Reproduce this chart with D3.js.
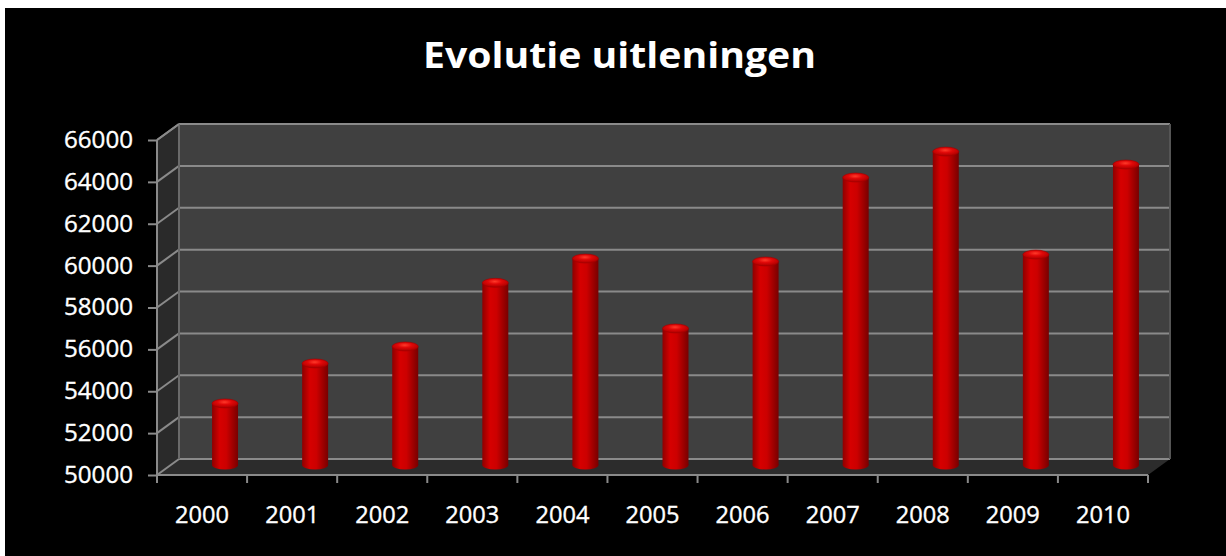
<!DOCTYPE html>
<html>
<head>
<meta charset="utf-8">
<script src="https://cdn.jsdelivr.net/npm/d3@7"></script>
<style>
  html, body { margin: 0; padding: 0; background: #fff; }
  svg { display: block; }
</style>
</head>
<body>
<div id="chart"></div>
<script>
// data
var years = ["2000", "2001", "2002", "2003", "2004", "2005", "2006", "2007", "2008", "2009", "2010"];
var loans = [52940, 54850, 55660, 58700, 59860, 56520, 59720, 63730, 64970, 60050, 64350];
var yTicks = [50000, 52000, 54000, 56000, 58000, 60000, 62000, 64000, 66000];

var svgWidth = 1226;
var svgHeight = 556;

// 3d offset of the back wall
var depth = { dx: 22, dy: -16 };
// where the cylinders stand inside the depth
var barShift = { dx: 23, dy: -10 };
var barWidth = 26;
var capRy = 4.5;

var svg = d3.select("#chart")
  .append("svg")
  .attr("width", svgWidth)
  .attr("height", svgHeight);

svg.append("rect")
  .attr("x", 5).attr("y", 8)
  .attr("width", svgWidth - 5).attr("height", svgHeight - 8)
  .attr("fill", "#000");

var xScale = d3.scaleBand()
  .domain(years)
  .range([157, 1148])
  .padding(0);

var yScale = d3.scaleLinear()
  .domain([50000, 66000])
  .range([475, 140]);

var x0 = xScale.range()[0], x1 = xScale.range()[1];
var yBot = yScale(50000), yTop = yScale(66000);

var defs = svg.append("defs");
var body = defs.append("linearGradient").attr("id", "cylBody");
body.append("stop").attr("offset", "0%").attr("stop-color", "#8e0000");
body.append("stop").attr("offset", "30%").attr("stop-color", "#d60000");
body.append("stop").attr("offset", "55%").attr("stop-color", "#cc0000");
body.append("stop").attr("offset", "100%").attr("stop-color", "#780000");

var cap = defs.append("radialGradient").attr("id", "cylCap")
  .attr("cx", "48%").attr("cy", "35%").attr("r", "60%");
cap.append("stop").attr("offset", "0%").attr("stop-color", "#ff3a2a");
cap.append("stop").attr("offset", "45%").attr("stop-color", "#e00808");
cap.append("stop").attr("offset", "100%").attr("stop-color", "#b00000");

// walls
var walls = svg.append("g");
walls.append("polygon")
  .attr("points", [[x0 + depth.dx, yTop + depth.dy], [x1 + depth.dx, yTop + depth.dy],
                   [x1 + depth.dx, yBot + depth.dy], [x0 + depth.dx, yBot + depth.dy]].join(" "))
  .attr("fill", "#404040");
walls.append("polygon")
  .attr("points", [[x0, yTop], [x0 + depth.dx, yTop + depth.dy],
                   [x0 + depth.dx, yBot + depth.dy], [x0, yBot]].join(" "))
  .attr("fill", "#2a2a2a");
walls.append("polygon")
  .attr("points", [[x0, yBot], [x0 + depth.dx, yBot + depth.dy],
                   [x1 + depth.dx, yBot + depth.dy], [x1, yBot]].join(" "))
  .attr("fill", "#2c2c2c");

// gridlines on the back wall and the side wall
var grid = svg.append("g").attr("stroke", "#8a8a8a").attr("stroke-width", 2).attr("fill", "none");
grid.selectAll(".back")
  .data(yTicks)
  .enter()
  .append("line")
  .attr("x1", x0 + depth.dx)
  .attr("x2", x1 + depth.dx)
  .attr("y1", d => yScale(d) + depth.dy)
  .attr("y2", d => yScale(d) + depth.dy);
grid.selectAll(".side")
  .data(yTicks)
  .enter()
  .append("line")
  .attr("x1", x0)
  .attr("x2", x0 + depth.dx)
  .attr("y1", d => yScale(d))
  .attr("y2", d => yScale(d) + depth.dy);
grid.append("line")
  .attr("x1", x0 + depth.dx).attr("x2", x0 + depth.dx)
  .attr("y1", yTop + depth.dy).attr("y2", yBot + depth.dy)
  .attr("stroke", "#6a6a6a");
grid.append("line")
  .attr("x1", x1 + depth.dx).attr("x2", x1 + depth.dx)
  .attr("y1", yTop + depth.dy).attr("y2", yBot + depth.dy)
  .attr("stroke", "#555");

// cylinders
var bars = svg.append("g");
var cyl = bars.selectAll(".cyl")
  .data(loans)
  .enter()
  .append("g")
  .attr("transform", (d, i) => `translate(${xScale(years[i]) + xScale.bandwidth() / 2 + barShift.dx}, 0)`);

cyl.append("ellipse")
  .attr("cx", 0)
  .attr("cy", yScale(50000) + barShift.dy)
  .attr("rx", barWidth / 2)
  .attr("ry", capRy)
  .attr("fill", "url(#cylBody)");
cyl.append("rect")
  .attr("x", -barWidth / 2)
  .attr("width", barWidth)
  .attr("y", d => yScale(d) + barShift.dy)
  .attr("height", d => yScale(50000) - yScale(d))
  .attr("fill", "url(#cylBody)");
cyl.append("ellipse")
  .attr("cx", 0)
  .attr("cy", d => yScale(d) + barShift.dy)
  .attr("rx", barWidth / 2)
  .attr("ry", capRy)
  .attr("fill", "url(#cylCap)")
  .attr("stroke", "#a00000")
  .attr("stroke-width", 0.6);

// axes
var leftAxis = d3.axisLeft(yScale)
  .tickValues(yTicks)
  .tickSize(9)
  .tickSizeOuter(0)
  .tickPadding(15)
  .tickFormat(d3.format("d"));

var yAxisG = svg.append("g")
  .attr("transform", `translate(${x0}, 0)`)
  .call(leftAxis);
yAxisG.select(".domain").remove();
yAxisG.selectAll("line").attr("stroke", "#8a8a8a").attr("stroke-width", 2);
yAxisG.selectAll("text")
  .attr("fill", "#fff")
  .attr("stroke", "#fff")
  .attr("stroke-width", 0.35)
  .style("font-family", "'Open Sans', sans-serif")
  .style("font-size", "23px")
  .attr("textLength", 69)
  .attr("lengthAdjust", "spacingAndGlyphs");

var bottomAxis = d3.axisBottom(xScale)
  .tickSize(0)
  .tickPadding(32);

var xAxisG = svg.append("g")
  .attr("transform", `translate(0, ${yBot})`)
  .call(bottomAxis);
xAxisG.select(".domain").remove();
xAxisG.selectAll("text")
  .attr("fill", "#fff")
  .attr("stroke", "#fff")
  .attr("stroke-width", 0.35)
  .style("font-family", "'Open Sans', sans-serif")
  .style("font-size", "23px")
  .attr("textLength", 54)
  .attr("lengthAdjust", "spacingAndGlyphs");

// front axis lines and category ticks
var axisLines = svg.append("g").attr("stroke", "#8a8a8a").attr("stroke-width", 2);
axisLines.append("line")
  .attr("x1", x0).attr("x2", x0)
  .attr("y1", yTop).attr("y2", yBot + 8);
axisLines.append("line")
  .attr("x1", x0).attr("x2", x1)
  .attr("y1", yBot).attr("y2", yBot);
axisLines.selectAll(".xtick")
  .data(years.slice(1).concat(["end"]))
  .enter()
  .append("line")
  .attr("x1", d => d === "end" ? x1 : xScale(d))
  .attr("x2", d => d === "end" ? x1 : xScale(d))
  .attr("y1", yBot)
  .attr("y2", yBot + 8);
axisLines.append("line")
  .attr("x1", x0).attr("x2", x0 + depth.dx)
  .attr("y1", yTop).attr("y2", yTop + depth.dy);

// title
svg.append("text")
  .attr("x", 619.5)
  .attr("y", 68)
  .attr("text-anchor", "middle")
  .attr("fill", "#fff")
  .style("font-family", "'Open Sans', sans-serif")
  .style("font-weight", "bold")
  .style("font-size", "36px")
  .attr("textLength", 393)
  .attr("lengthAdjust", "spacingAndGlyphs")
  .text("Evolutie uitleningen");
</script>
</body>
</html>
